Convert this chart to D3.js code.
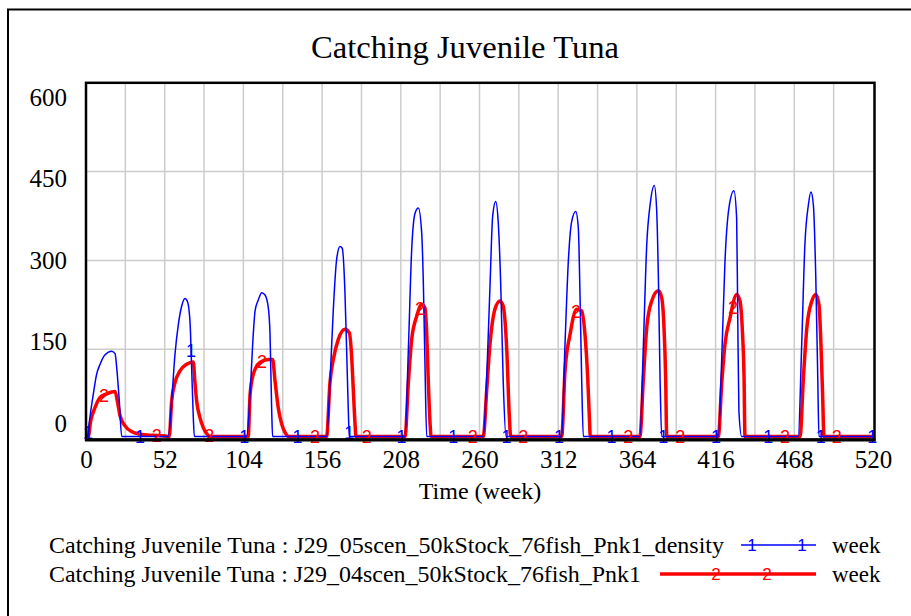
<!DOCTYPE html>
<html>
<head>
<meta charset="utf-8">
<script src="https://cdn.jsdelivr.net/npm/d3@7/dist/d3.min.js"></script>
<style>
  html, body { margin: 0; padding: 0; background: #fff; }
  svg { display: block; }
</style>
</head>
<body>
<svg id="chart" width="911" height="616"></svg>
<script>
// ---------------- DATA ----------------
const chartTitle = "Catching Juvenile Tuna";
const xTicks = [0, 52, 104, 156, 208, 260, 312, 364, 416, 468, 520];
const yTicks = [0, 150, 300, 450, 600];
const xGrid = [26, 52, 78, 104, 130, 156, 182, 208, 234, 260, 286, 312, 338, 364, 390, 416, 442, 468, 494];
const yGrid = [150, 300, 450];
const xLabel = "Time (week)";
const seriesNames = [
  "Catching Juvenile Tuna : J29_05scen_50kStock_76fish_Pnk1_density",
  "Catching Juvenile Tuna : J29_04scen_50kStock_76fish_Pnk1"
];
const unitLabel = "week";

// series 1 (blue, "density") : week / value pairs
const densityWeeks = [
  0, 1, 2, 3, 4.8, 7, 9.3, 12.6, 17, 19.2, 20.3, 22, 23.6,
  54.4, 56.6, 58.8, 61, 63.2, 65.4, 66.9, 68.7, 69.8, 70.9, 71.6,
  106.2, 108.4, 110.5, 111.7, 113.9, 116.1, 118.3, 120.5, 121.6, 122.7, 123.3,
  159, 161.2, 163.4, 165.6, 167.8, 169.3, 171.1, 172.2, 173.3, 174,
  210.8, 213, 215.2, 217.4, 219.6, 221.8, 222.9, 224, 225.1,
  262.5, 264.8, 267, 268.7, 270.7, 272.4, 274, 275.7, 277.5,
  314.3, 316.5, 318.7, 320.9, 323.6, 325.3, 326.4, 327.5, 328.6,
  366, 368.3, 370.5, 372.7, 375.5, 377.1, 378.2, 379.3, 380.4,
  417.8, 420, 422.2, 424.8, 428.1, 429.9, 430.6, 431.4, 433.2,
  470.6, 472.9, 475, 477.3, 479, 480.6, 482.2, 483.5, 484.3, 520
];
const densityValues = [
  0, 0, 20, 40, 71, 105, 122, 138, 144, 140, 116, 60, 0,
  0, 60, 139, 189, 220, 233, 229, 195, 116, 32, 0,
  0, 71, 172, 212, 231, 243, 239, 217, 172, 43, 0,
  0, 91, 214, 299, 321, 318, 243, 147, 46, 0,
  0, 147, 316, 377, 386, 344, 259, 119, 0,
  0, 102, 259, 372, 397, 361, 259, 91, 0,
  0, 156, 296, 363, 380, 352, 240, 99, 0,
  0, 156, 324, 391, 424, 380, 268, 99, 0,
  0, 128, 296, 386, 415, 369, 212, 43, 0,
  0, 156, 324, 391, 413, 391, 268, 99, 0, 0
];

// series 2 (red)
const baseWeeks = [
  0, 1.5, 3, 6, 9.3, 13.7, 19.2, 20.7, 22.5, 25.8, 30, 35.7, 44, 52,
  55, 56.6, 58.8, 62.1, 66.5, 70.9, 71.9, 73.1, 75.3, 77.5, 79.7, 82,
  107.2, 108.4, 110.5, 114.9, 120.5, 123.3, 124.9, 127, 129.3, 131.5, 134,
  159, 161.2, 163.4, 166.7, 171.1, 174, 175.5, 176.6, 177.7, 178.4,
  210.8, 213, 215.2, 218.5, 221.8, 224, 225.1, 226.2, 227.3, 228,
  262.5, 264.8, 267, 270.2, 273.5, 275.7, 278, 279.7, 280.6,
  314.3, 316.5, 319.8, 324.2, 327.5, 329.7, 331.5, 332.6, 333.2,
  366, 368.3, 370.5, 373.8, 378.2, 380.4, 381.9, 383, 383.7,
  417.8, 420, 422.2, 425.5, 429.9, 432.1, 433.7, 434.8, 435.4,
  471.8, 474, 476.3, 479.6, 482.2, 484.3, 485.6, 486.7, 487.6, 520
];
const baseValues = [
  0, 0, 25, 49, 66, 72, 76, 60, 35, 18, 8.4, 4, 2, 1,
  0, 60, 91, 111, 122, 126, 94, 60, 32, 15, 5, 0,
  0, 71, 105, 125, 130, 130, 94, 49, 21, 7, 0,
  0, 91, 130, 164, 181, 175, 136, 80, 24, 0,
  0, 91, 164, 203, 223, 217, 175, 91, 24, 0,
  0, 80, 158, 215, 229, 220, 147, 35, 0,
  0, 111, 172, 215, 212, 172, 99, 32, 0,
  0, 99, 184, 229, 246, 234, 184, 99, 0,
  0, 88, 156, 200, 240, 229, 178, 99, 0,
  0, 99, 184, 229, 240, 223, 156, 71, 0, 0
];

// marker weeks (where the series number labels sit)
const densityMarkerWeeks = [1.3, 35.7, 69.4, 104.6, 139.8, 173.9, 208.5, 242.6, 277.9, 312.5, 347.3, 381.4, 416.3, 450.8, 485.4, 519.5];
const baseMarkerWeeks = [11.9, 46.7, 81.4, 116.3, 151.3, 185.5, 220.7, 255.5, 288.9, 323.8, 358.3, 392.6, 427.5, 461.9, 496.0];

// ---------------- DRAW ----------------
const svg = d3.select("#chart");
const serif = "'Liberation Serif', 'Times New Roman', Times, serif";
const sans = "'Liberation Sans', Arial, sans-serif";
const BLUE = "#0000ff", RED = "#ff0000";

// outer frame (top & left visible)
svg.append("rect").attr("x", 8).attr("y", 9.5).attr("width", 1000).attr("height", 1000)
  .attr("fill", "none").attr("stroke", "#000").attr("stroke-width", 2);

const x = d3.scaleLinear().domain([0, 520]).range([86, 873]);
const y = d3.scaleLinear().domain([0, 600]).range([438, 82.8]);
const yLab = d3.scaleLinear().domain([0, 600]).range([423, 97]); // label placement

// title
svg.append("text").attr("x", 465).attr("y", 58).attr("text-anchor", "middle")
  .attr("font-family", serif).attr("font-size", 31).attr("textLength", 308)
  .attr("lengthAdjust", "spacingAndGlyphs").text(chartTitle);

// grid
const grid = svg.append("g").attr("stroke", "#cccccc").attr("stroke-width", 1.5);
grid.selectAll("line.v").data(xGrid).join("line").attr("class", "v")
  .attr("x1", d => x(d)).attr("x2", d => x(d)).attr("y1", y(600)).attr("y2", y(0));
grid.selectAll("line.h").data(yGrid).join("line").attr("class", "h")
  .attr("x1", x(0)).attr("x2", x(520)).attr("y1", d => y(d)).attr("y2", d => y(d));

// axes labels via d3 axes (lines hidden)
const xAxis = svg.append("g").attr("transform", "translate(0,450)")
  .call(d3.axisBottom(x).tickValues(xTicks).tickSize(0).tickPadding(0).tickFormat(d3.format("d")));
xAxis.select(".domain").remove();
xAxis.selectAll("text").attr("font-family", serif).attr("font-size", 25).attr("fill", "#000").attr("dy", "0.71em");

const yAxis = svg.append("g").attr("transform", "translate(67,0)")
  .call(d3.axisLeft(yLab).tickValues(yTicks).tickSize(0).tickPadding(0).tickFormat(d3.format("d")));
yAxis.select(".domain").remove();
yAxis.selectAll("text").attr("font-family", serif).attr("font-size", 25).attr("fill", "#000").attr("dy", "0.33em");

svg.append("text").attr("x", 480).attr("y", 499).attr("text-anchor", "middle")
  .attr("font-family", serif).attr("font-size", 24).text(xLabel);

// series
const redData = baseWeeks.map((w, i) => [w, baseValues[i]]);
const blueData = densityWeeks.map((w, i) => [w, densityValues[i]]);
const line = d3.line().x(d => x(d[0])).y(d => y(d[1])).curve(d3.curveMonotoneX);

function interp(weeks, values, w) {
  const i = d3.bisectRight(weeks, w);
  if (i <= 0) return values[0];
  if (i >= weeks.length) return values[values.length - 1];
  const w0 = weeks[i - 1], w1 = weeks[i];
  const t = (w - w0) / (w1 - w0);
  return values[i - 1] + t * (values[i] - values[i - 1]);
}

const plot = svg.append("g").attr("transform", "translate(0,-1.5)");
plot.append("path").datum(redData).attr("d", line).attr("fill", "none")
  .attr("stroke", RED).attr("stroke-width", 3.5).attr("stroke-linejoin", "round");
plot.append("path").datum(blueData).attr("d", line).attr("fill", "none")
  .attr("stroke", BLUE).attr("stroke-width", 1.5).attr("stroke-linejoin", "round");

plot.selectAll("text.m2").data(baseMarkerWeeks).join("text").attr("class", "m2")
  .attr("x", d => x(d)).attr("y", d => y(interp(baseWeeks, baseValues, d)))
  .attr("text-anchor", "middle").attr("dy", "0.36em")
  .attr("font-family", sans).attr("font-size", 18).attr("fill", RED).text("2");
plot.selectAll("text.m1").data(densityMarkerWeeks).join("text").attr("class", "m1")
  .attr("x", d => x(d)).attr("y", d => y(interp(densityWeeks, densityValues, d)))
  .attr("text-anchor", "middle").attr("dy", "0.36em")
  .attr("font-family", sans).attr("font-size", 18).attr("fill", BLUE).text("1");

// plot frame
svg.append("rect").attr("x", x(0)).attr("y", y(600)).attr("width", 874.5 - x(0)).attr("height", 439.5 - y(600))
  .attr("fill", "none").attr("stroke", "#000").attr("stroke-width", 2.5);
svg.append("line").attr("x1", x(0) - 1).attr("x2", 875.5).attr("y1", 440).attr("y2", 440)
  .attr("stroke", "#000").attr("stroke-width", 3);

// legend
const legendRows = [
  { name: seriesNames[0], color: BLUE, width: 1.5, mark: "1", y: 545, len: 675, x1: 741, marks: [752, 802] },
  { name: seriesNames[1], color: RED, width: 3.5, mark: "2", y: 574, len: 592, x1: 660, marks: [716, 767] }
];
const lg = svg.append("g");
legendRows.forEach(r => {
  lg.append("text").attr("x", 49).attr("y", r.y + 7.5).attr("font-family", serif).attr("font-size", 23)
    .attr("textLength", r.len).attr("lengthAdjust", "spacingAndGlyphs").text(r.name);
  lg.append("line").attr("x1", r.x1).attr("x2", 816).attr("y1", r.y).attr("y2", r.y)
    .attr("stroke", r.color).attr("stroke-width", r.width);
  r.marks.forEach(mx => {
    lg.append("text").attr("x", mx).attr("y", r.y).attr("dy", "0.36em").attr("text-anchor", "middle")
      .attr("font-family", sans).attr("font-size", 17).attr("fill", r.color).text(r.mark);
  });
  lg.append("text").attr("x", 832).attr("y", r.y + 7.5).attr("font-family", serif).attr("font-size", 23)
    .text(unitLabel);
});
</script>
</body>
</html>
